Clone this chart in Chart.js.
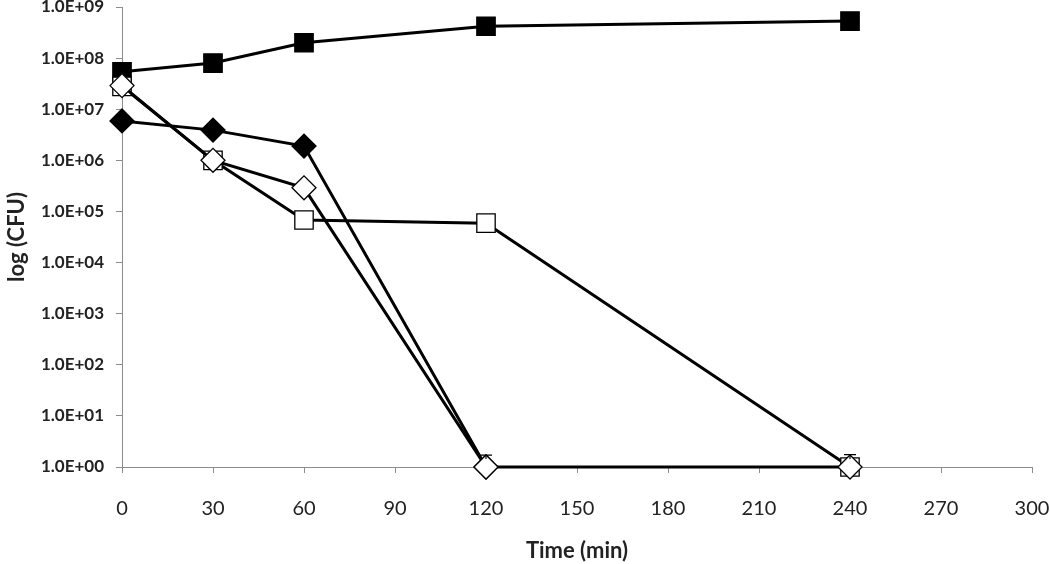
<!DOCTYPE html>
<html>
<head>
<meta charset="utf-8">
<script src="https://cdn.jsdelivr.net/npm/chart.js@4/dist/chart.umd.min.js"></script>
<style>
  body { margin: 0; background: #fff; }
</style>
</head>
<body>
<canvas id="chart" width="1050" height="564"></canvas>
<script>
const times = [0, 30, 60, 120, 240];
const filledSquare = [5.4e7, 8e7, 2e8, 4.2e8, 5.3e8];
const filledDiamond = [5.9e6, 3.9e6, 1.9e6, 1, null];
const openDiamond = [2.9e7, 1e6, 2.9e5, 1, 1];
const openSquare = [2.8e7, 1e6, 6.8e4, 5.9e4, 1];
const errTimes = [120, 240];
const errHigh = [1.7, 1.75];
const xTicks = [0, 30, 60, 90, 120, 150, 180, 210, 240, 270, 300];
const yTicks = [1, 1e1, 1e2, 1e3, 1e4, 1e5, 1e6, 1e7, 1e8, 1e9];

const pts = (vals) => times.map((t, i) => ({ x: t, y: vals[i] }));

// small upper error caps at the points sitting on the detection limit
const errorBars = {
  id: "errorBars",
  afterDatasetsDraw(chart) {
    const { ctx, scales } = chart;
    ctx.save();
    ctx.strokeStyle = "#000";
    ctx.lineWidth = 1.2;
    errTimes.forEach((t, i) => {
      const x = scales.x.getPixelForValue(t);
      const y0 = scales.y.getPixelForValue(1) - 8;
      const y1 = scales.y.getPixelForValue(errHigh[i]);
      ctx.beginPath();
      ctx.moveTo(x, y0);
      ctx.lineTo(x, y1);
      ctx.moveTo(x - 6, y1);
      ctx.lineTo(x + 6, y1);
      ctx.stroke();
    });
    ctx.restore();
  }
};

const line = (vals, style, radius, fill, order) => ({
  data: pts(vals),
  borderColor: "#000",
  borderWidth: 3,
  pointStyle: style,
  pointRadius: radius,
  pointHoverRadius: radius,
  pointBackgroundColor: fill,
  pointBorderColor: "#000",
  pointBorderWidth: 1.3,
  order: order,
  clip: false,
  spanGaps: false
});

let myChart = new Chart(document.getElementById("chart"), {
  type: "line",
  data: {
    datasets: [
      line(openDiamond, "rectRot", 12, "#fff", 1),
      line(openSquare, "rect", 13, "#fff", 2),
      line(filledDiamond, "rectRot", 12, "#000", 3),
      line(filledSquare, "rect", 13, "#000", 4)
    ]
  },
  plugins: [errorBars],
  options: {
    responsive: false,
    animation: false,
    layout: { autoPadding: false, padding: { left: 0, right: 18, top: 7, bottom: 0 } },
    plugins: { legend: { display: false }, tooltip: { enabled: false } },
    scales: {
      x: {
        type: "linear",
        min: 0,
        max: 300,
        afterBuildTicks: (s) => { s.ticks = xTicks.map((v) => ({ value: v })); },
        afterFit: (s) => { s.height = 97; s.paddingLeft = 0; s.paddingRight = 0; },
        grid: { drawOnChartArea: false, tickLength: 6, color: "#8c8c8c" },
        border: { color: "#8c8c8c" },
        ticks: { color: "#222", padding: 24, autoSkip: false, maxRotation: 0, font: { family: "Lato", size: 20 } },
        title: {
          display: true,
          text: "Time (min)",
          color: "#222",
          font: { family: "Lato", size: 22, weight: "bold" },
          padding: { top: 0, bottom: 0 }
        }
      },
      y: {
        type: "logarithmic",
        min: 1,
        max: 1e9,
        afterBuildTicks: (s) => { s.ticks = yTicks.map((v) => ({ value: v })); },
        afterFit: (s) => { s.width = 122; s.paddingTop = 0; s.paddingBottom = 0; },
        grid: { drawOnChartArea: false, tickLength: 6, color: "#8c8c8c" },
        border: { color: "#8c8c8c" },
        ticks: {
          color: "#222",
          padding: 12,
          autoSkip: false,
          font: { family: "Lato", size: 17, weight: "bold" },
          callback: (v) => "1.0E+" + String(Math.round(Math.log10(v))).padStart(2, "0")
        },
        title: {
          display: true,
          text: "log (CFU)",
          color: "#222",
          font: { family: "Lato", size: 22, weight: "bold" },
          padding: { top: 4, bottom: 0 }
        }
      }
    }
  }
});
</script>
</body>
</html>
